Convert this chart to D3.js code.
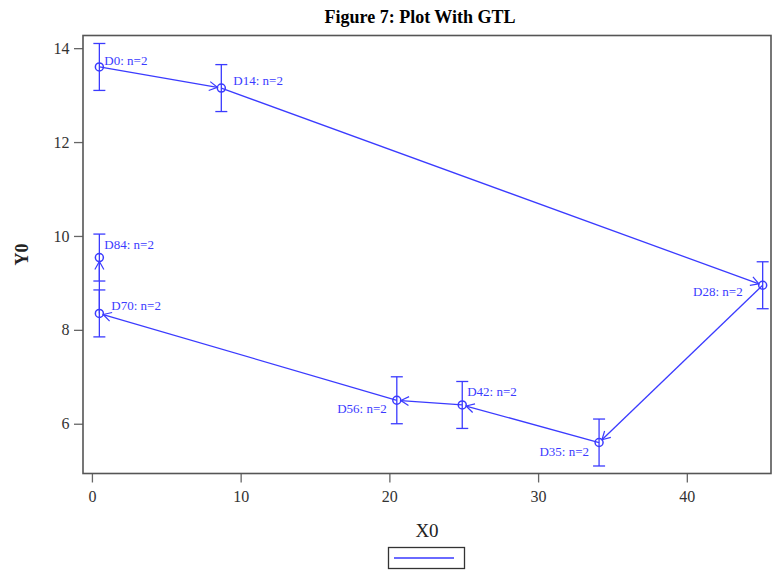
<!DOCTYPE html>
<html><head><meta charset="utf-8">
<script src="https://cdn.jsdelivr.net/npm/d3@7"></script>
<style>body{margin:0;background:#fff}svg{display:block}</style>
</head><body>
<script>
const labels = ["D0","D14","D28","D35","D42","D56","D70","D84"];
const xVals = [0.5, 8.7, 45.1, 34.1, 24.9, 20.5, 0.5, 0.5];
const yVals = [13.6, 13.15, 8.95, 5.6, 6.4, 6.5, 8.35, 9.54];
const errLow = [13.1, 12.65, 8.45, 5.1, 5.9, 6.0, 7.85, 9.04];
const errHigh = [14.1, 13.65, 9.45, 6.1, 6.9, 7.0, 8.85, 10.04];
const nVals = [2,2,2,2,2,2,2,2];
const labelPlace = ["NE","E","W","SW","N","SW","E","N"];
const xTicks = [0,10,20,30,40];
const yTicks = [6,8,10,12,14];

const W=776,H=571;
const m={l:83,r:771,t:35.5,b:473.5};
const blue="#3b3bff";
const svg=d3.select("body").append("svg").attr("width",W).attr("height",H);
const x=d3.scaleLinear().domain([-0.6,45.66]).range([m.l,m.r]);
const y=d3.scaleLinear().domain([4.94,14.27]).range([m.b,m.t]);

svg.append("text").attr("x",420).attr("y",23).attr("text-anchor","middle")
 .attr("font-family","Liberation Serif").attr("font-weight","bold").attr("font-size",18).text("Figure 7: Plot With GTL");

const defs=svg.append("defs");
defs.append("marker").attr("id","arr").attr("viewBox","-10 -6 12 12").attr("refX",0).attr("refY",0)
 .attr("markerWidth",12).attr("markerHeight",12).attr("markerUnits","userSpaceOnUse").attr("orient","auto")
 .append("path").attr("d","M-8,-4.5L0,0L-8,4.5").attr("fill","none").attr("stroke",blue).attr("stroke-width",1.2);

const gx=svg.append("g").attr("transform",`translate(0,${m.b})`)
 .call(d3.axisBottom(x).tickValues(xTicks).tickSize(9).tickSizeOuter(0));
gx.select(".domain").remove();
gx.selectAll("line").attr("stroke","#666").attr("stroke-width",1.3);
gx.selectAll("text").attr("font-family","Liberation Serif").attr("font-size",16).attr("fill","#333").attr("dy","1.05em");
const gy=svg.append("g").attr("transform",`translate(${m.l},0)`)
 .call(d3.axisLeft(y).tickValues(yTicks).tickSize(9).tickSizeOuter(0));
gy.select(".domain").remove();
gy.selectAll("line").attr("stroke","#666").attr("stroke-width",1.3);
gy.selectAll("text").attr("font-family","Liberation Serif").attr("font-size",16).attr("fill","#333").attr("dx","-0.1em");

svg.append("rect").attr("x",m.l).attr("y",m.t).attr("width",m.r-m.l).attr("height",m.b-m.t)
 .attr("fill","none").attr("stroke","#555").attr("stroke-width",1.6);

svg.append("text").attr("x",427).attr("y",537).attr("text-anchor","middle")
 .attr("font-family","Liberation Serif").attr("font-size",19).attr("fill","#222").text("X0");
svg.append("text").attr("transform",`translate(28,${(m.t+m.b)/2}) rotate(-90)`).attr("text-anchor","middle")
 .attr("font-family","Liberation Serif").attr("font-weight","bold").attr("font-size",18).attr("fill","#222").text("Y0");

const pts=labels.map((d,i)=>({lab:d,x:xVals[i],y:yVals[i],lo:errLow[i],hi:errHigh[i],n:nVals[i],pos:labelPlace[i]}));
const g=svg.append("g");
pts.forEach(p=>{
  const cx=x(p.x);
  g.append("line").attr("x1",cx).attr("x2",cx).attr("y1",y(p.lo)).attr("y2",y(p.hi)).attr("stroke",blue).attr("stroke-width",1.3);
  [p.lo,p.hi].forEach(v=>g.append("line").attr("x1",cx-6).attr("x2",cx+6).attr("y1",y(v)).attr("y2",y(v)).attr("stroke",blue).attr("stroke-width",1.3));
});
const R=4;
for(let i=0;i<pts.length-1;i++){
  const a=pts[i],b=pts[i+1];
  const x1=x(a.x),y1=y(a.y),x2=x(b.x),y2=y(b.y);
  const L=Math.hypot(x2-x1,y2-y1), ux=(x2-x1)/L, uy=(y2-y1)/L;
  g.append("line").attr("x1",x1).attr("y1",y1).attr("x2",x2-ux*R).attr("y2",y2-uy*R)
   .attr("stroke",blue).attr("stroke-width",1.3).attr("marker-end","url(#arr)");
}
g.selectAll("circle").data(pts).join("circle").attr("cx",d=>x(d.x)).attr("cy",d=>y(d.y)).attr("r",R)
 .attr("fill","none").attr("stroke",blue).attr("stroke-width",1.5);
const off={NE:[5,-2,"start"],N:[5,-9,"start"],E:[12,-3,"start"],SW:[-10,13,"end"],W:[-20,11,"end"]};
g.selectAll("text.lab").data(pts).join("text").attr("class","lab")
 .attr("x",d=>x(d.x)+off[d.pos][0]).attr("y",d=>y(d.y)+off[d.pos][1]).attr("text-anchor",d=>off[d.pos][2])
 .attr("font-family","Liberation Serif").attr("font-size",13).attr("fill",blue)
 .text(d=>`${d.lab}: n=${d.n}`);

svg.append("rect").attr("x",388.5).attr("y",547.5).attr("width",76).attr("height",21).attr("fill","#fff").attr("stroke","#333").attr("stroke-width",1.3);
svg.append("line").attr("x1",394).attr("x2",454).attr("y1",558).attr("y2",558).attr("stroke","#6a6aff").attr("stroke-width",2);
</script>
</body></html>
